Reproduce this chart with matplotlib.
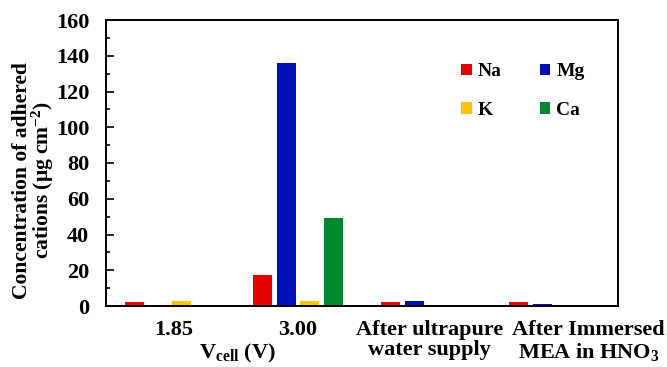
import numpy as np
import matplotlib.pyplot as plt
from matplotlib.ticker import MultipleLocator
import matplotlib.transforms as mtransforms

plt.rcParams['font.family'] = ['Liberation Serif', 'DejaVu Serif']
plt.rcParams['font.weight'] = 'bold'
plt.rcParams['mathtext.fontset'] = 'custom'
plt.rcParams['mathtext.rm'] = 'Liberation Serif:bold'
plt.rcParams['mathtext.it'] = 'Liberation Serif:italic:bold'
plt.rcParams['mathtext.bf'] = 'Liberation Serif:bold'

# conditions on the x axis
groups = ['1.85', '3.00', 'After ultrapure\nwater supply',
          'After Immersed\nMEA in HNO$_\\mathregular{3}$']

# adhered cation concentrations (ug cm^-2)
na = [2.0, 17.5, 2.0, 2.0]
mg = [0.0, 136.0, 3.0, 1.0]
k = [3.0, 3.0, 0.5, 0.5]
ca = [0.0, 49.0, 0.0, 0.0]

series = [('Na', na, '#E80000'), ('Mg', mg, '#0010B8'),
          ('K', k, '#FFC000'), ('Ca', ca, '#00882F')]

fig = plt.figure(figsize=(6.67, 3.67), dpi=100)
ax = fig.add_axes([106 / 667, 1 - 306 / 367, 512 / 667, 286 / 367])

x = np.arange(len(groups))
pitch = 0.184
width = 0.145
bars = {}
for i, (name, vals, col) in enumerate(series):
    bars[name] = ax.bar(x + (i - 1.5) * pitch, vals, width, color=col, label=name)

ax.set_xlim(-0.5, 3.5)
ax.set_ylim(0, 160)
ax.yaxis.set_major_locator(MultipleLocator(20))
ax.yaxis.set_minor_locator(MultipleLocator(10))
ax.tick_params(axis='y', which='major', direction='in', length=6, width=1.2,
               labelsize=16, pad=12)
ax.tick_params(axis='y', which='minor', direction='in', length=3, width=1.2)
ax.set_xticks([])
for s in ax.spines.values():
    s.set_linewidth(1.4)

# category labels under the axis (last one pushed right so they don't collide)
shift = [0.03, 0.0, 0.03, 0.27]
trans = mtransforms.blended_transform_factory(ax.transData, ax.transAxes)
for xi, lab, dx in zip(x, groups, shift):
    ax.text(xi + dx, -0.048, lab, transform=trans, ha='center', va='top',
            fontsize=16, linespacing=1.05)

ax.text(0.256, -0.184, 'V$_{\\mathregular{cell}}$ (V)', transform=ax.transAxes,
        fontsize=16, ha='center', va='baseline')

ax.text(-0.141, 0.44, 'Concentration of adhered\ncations (\u03bcg cm$^{\\mathregular{-2}}$)',
        transform=ax.transAxes, rotation=90, ha='center', va='center',
        fontsize=15.5, linespacing=0.88)

handles = [bars['Na'], bars['K'], bars['Mg'], bars['Ca']]
labels = ['Na', 'K', 'Mg', 'Ca']
ax.legend(handles, labels, ncol=2, loc='upper left', bbox_to_anchor=(0.66, 0.91),
          frameon=False, fontsize=14, handlelength=0.55, handleheight=0.55,
          handletextpad=0.3, columnspacing=1.95, labelspacing=1.1)

fig.savefig('out.png', dpi=100)
